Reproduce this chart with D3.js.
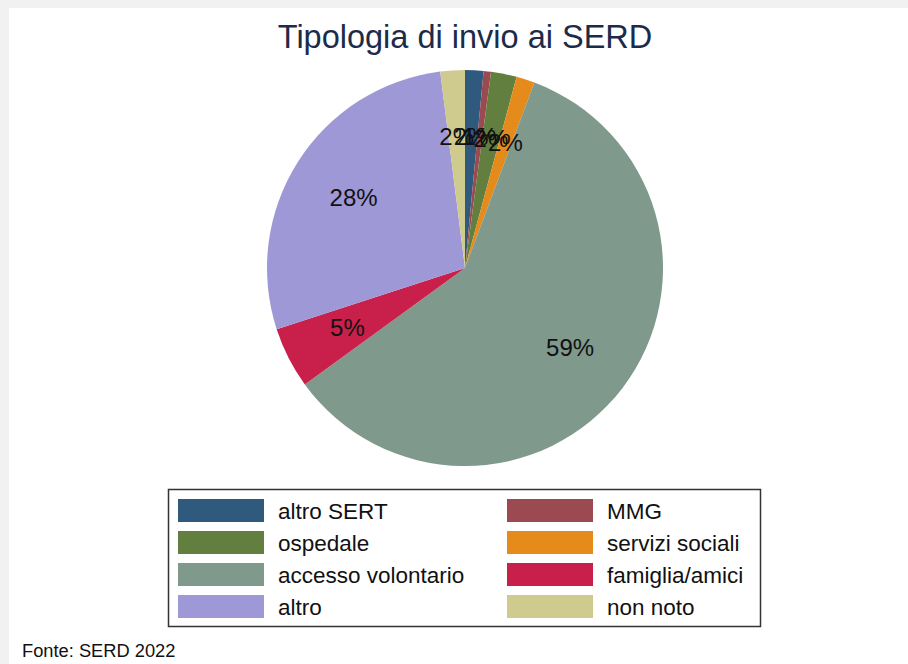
<!DOCTYPE html>
<html>
<head>
<meta charset="utf-8">
<script src="https://cdn.jsdelivr.net/npm/d3@7"></script>
<style>
  body { margin: 0; background: #fff; }
  svg { display: block; font-family: "Liberation Sans", Arial, sans-serif; }
</style>
</head>
<body>
<svg id="chart" width="908" height="664"></svg>
<script>
// categories in the order Stata draws them (clockwise from 12 o'clock)
const categories = ["altro SERT", "MMG", "ospedale", "servizi sociali",
  "accesso volontario", "famiglia/amici", "altro", "non noto"];
const shares = [1.5, 0.6, 2.1, 1.5, 59.3, 5.0, 28.0, 2.0];
const colors = ["#2f5a7e", "#9b4a51", "#627f40", "#e58b1b",
  "#7f998c", "#c8204a", "#9f98d6", "#cfca8d"];

const data = categories.map((c, i) => ({ name: c, value: shares[i] }));

const svg = d3.select("#chart");

// page background of the cropped screenshot
svg.append("rect").attr("width", 908).attr("height", 664).attr("fill", "#f1f1f1");
svg.append("rect").attr("x", 9).attr("y", 8).attr("width", 899).attr("height", 656).attr("fill", "#fff");

svg.append("text")
  .attr("x", 465)
  .attr("y", 48)
  .attr("text-anchor", "middle")
  .attr("font-size", 32.5)
  .attr("fill", "#1c2b4a")
  .text("Tipologia di invio ai SERD");

const radius = 198;
const g = svg.append("g").attr("transform", "translate(465,268)");

const pie = d3.pie().value((d) => d.value).sort(null);
const arc = d3.arc().innerRadius(0).outerRadius(radius);
const labelArc = d3.arc().innerRadius(radius * 2 / 3).outerRadius(radius * 2 / 3);
const color = d3.scaleOrdinal().domain(categories).range(colors);

const arcs = pie(data);

g.selectAll(".slice")
  .data(arcs)
  .enter()
  .append("path")
  .attr("class", "slice")
  .attr("d", arc)
  .attr("fill", (d) => color(d.data.name));

g.selectAll(".plabel")
  .data(arcs)
  .enter()
  .append("text")
  .attr("class", "plabel")
  .attr("transform", (d) => "translate(" + labelArc.centroid(d) + ")")
  .attr("text-anchor", "middle")
  .attr("dy", ".35em")
  .attr("font-size", 24)
  .attr("fill", "#111")
  .text((d) => Math.round(d.data.value) + "%");

// legend: two columns, four rows
const legend = svg.append("g");
legend.append("rect")
  .attr("x", 168.5)
  .attr("y", 489.5)
  .attr("width", 592)
  .attr("height", 137)
  .attr("fill", "#fff")
  .attr("stroke", "#333")
  .attr("stroke-width", 1.5);

const item = legend.selectAll(".item")
  .data(categories)
  .enter()
  .append("g")
  .attr("class", "item")
  .attr("transform", (d, i) => {
    const col = i % 2, row = Math.floor(i / 2);
    return "translate(" + (178 + col * 329) + "," + (499 + row * 32) + ")";
  });

item.append("rect")
  .attr("width", 86)
  .attr("height", 23)
  .attr("fill", (d) => color(d));

item.append("text")
  .attr("x", 100)
  .attr("y", 12)
  .attr("dy", ".35em")
  .attr("font-size", 22.5)
  .attr("fill", "#111")
  .text((d) => d);

svg.append("text")
  .attr("x", 22)
  .attr("y", 657)
  .attr("font-size", 18.3)
  .attr("fill", "#111")
  .text("Fonte: SERD 2022");
</script>
</body>
</html>
